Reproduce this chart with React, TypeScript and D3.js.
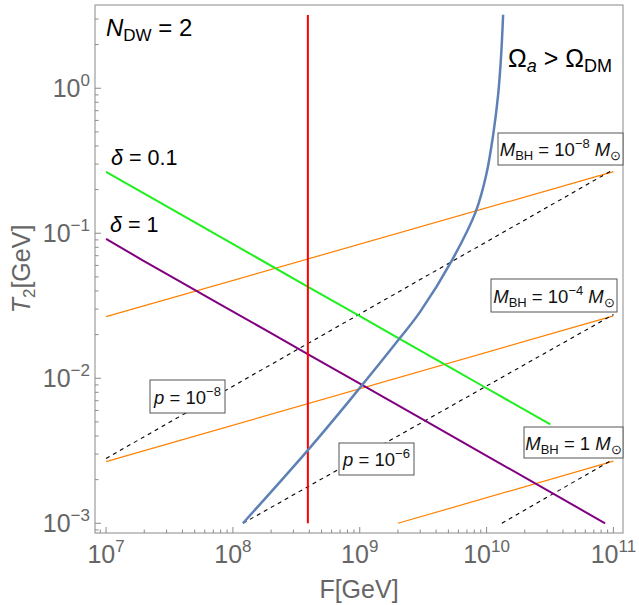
import React from 'react';
import * as d3 from 'd3';

const W = 639;
const H = 605;

// plot ranges
const xDomain = [8.18e6, 1.19e11];
const yDomain = [8.57e-4, 3.75];
const xMajorExps = [7, 8, 9, 10, 11];
const yMajorExps = [-3, -2, -1, 0];

// Omega_a > Omega_DM boundary (blue)
const blueF = [1.2e8, 3.92e8, 8.39e8, 2.08e9, 2.99e9, 5.36e9, 8.22e9, 9.93e9, 1.127e10, 1.233e10, 1.303e10, 1.35e10];
const blueT = [1e-3, 3.21e-3, 7.1e-3, 0.019, 0.0287, 0.0656, 0.141, 0.252, 0.477, 0.9, 1.7, 3.21];

// delta = 0.1 (green)
const greenF = [1e7, 2.35e7, 5.22e7, 1.37e8, 3.85e8, 1.01e9, 2.08e9, 4.71e9, 9.4e9, 3.18e10];
const greenT = [0.265, 0.1732, 0.1165, 0.0721, 0.0431, 0.0267, 0.01864, 0.01241, 0.00881, 0.00481];

// delta = 1 (purple)
const purpleF = [1e7, 1.96e7, 3.63e7, 7.5e7, 1.86e8, 3.92e8, 1.06e9, 3.4e9, 1.01e10, 3.35e10, 8.6e10];
const purpleT = [0.0914, 0.0648, 0.0477, 0.0333, 0.0212, 0.01464, 0.00892, 0.005, 0.00291, 0.0016, 0.001];

// M_BH lines (orange)
const orange1F = [1e7, 1e11];
const orange1T = [0.0266, 0.266];
const orange2F = [1e7, 1e11];
const orange2T = [0.00266, 0.0269];
const orange3F = [2.0e9, 1e11];
const orange3T = [0.001, 0.00268];

// p lines (dashed black)
const dash1F = [1e7, 1e11];
const dash1T = [0.0028, 0.275];
const dash2F = [1.2e8, 1e11];
const dash2T = [0.001, 0.0275];
const dash3F = [1.32e10, 9.5e10];
const dash3T = [0.001, 0.0027];

// red vertical line
const redF = [3.9e8, 3.9e8];
const redT = [0.001, 3.2];

const FONT = '"Liberation Sans", Arial, Helvetica, sans-serif';

const zip = (a: number[], b: number[]) => a.map((v, i) => [v, b[i]] as [number, number]);

export default function App() {
  const left = 95, right = 623, top = 5, bottom = 533;
  const x = d3.scaleLog().domain(xDomain).range([left, right]);
  const y = d3.scaleLog().domain(yDomain).range([bottom, top]);
  const line = d3.line<[number, number]>().x(d => x(d[0])).y(d => y(d[1]));
  const smooth = d3.line<[number, number]>().x(d => x(d[0])).y(d => y(d[1])).curve(d3.curveCatmullRom.alpha(0.5));

  const xTicks: { v: number; major: boolean }[] = [];
  for (let e = 6; e <= 11; e++) for (let k = 1; k <= 9; k++) {
    const v = k * Math.pow(10, e);
    if (v >= xDomain[0] && v <= xDomain[1]) xTicks.push({ v, major: k === 1 });
  }
  const yTicks: { v: number; major: boolean }[] = [];
  for (let e = -4; e <= 0; e++) for (let k = 1; k <= 9; k++) {
    const v = k * Math.pow(10, e);
    if (v >= yDomain[0] && v <= yDomain[1]) yTicks.push({ v, major: k === 1 });
  }
  const grey = '#8a8a8a';
  const labelGrey = '#666666';
  const expStr = (e: number) => (e < 0 ? '\u2212' + Math.abs(e) : String(e));

  const Box = ({ x0, y0, w, h, children }: any) => (
    <g>
      <rect x={x0} y={y0} width={w} height={h} fill="white" stroke="#555" strokeWidth={1} />
      <text x={x0 + w / 2} y={y0 + h / 2 + 7} textAnchor="middle" fontSize={18.5} fill="#111">{children}</text>
    </g>
  );

  const MBH = (exp: string | null) => (
    <>
      <tspan fontStyle="italic">M</tspan>
      <tspan fontSize={13} dy={4}>BH</tspan>
      <tspan dy={-4}>{exp === null ? ' = 1 ' : ' = 10'}</tspan>
      {exp !== null && <tspan fontSize={13} dy={-8}>{exp}</tspan>}
      {exp !== null && <tspan dy={8}>{' '}</tspan>}
      <tspan fontStyle="italic">M</tspan>
      <tspan fontSize={13} dy={4}>{'\u2299'}</tspan>
    </>
  );

  return (
    <div style={{ position: 'absolute', left: 0, top: 0 }}>
      <svg width={W} height={H} style={{ display: 'block', fontFamily: FONT }}>
        <rect x={0} y={0} width={W} height={H} fill="white" />
        {/* data lines */}
        <path d={line(zip(orange1F, orange1T))!} fill="none" stroke="#FF8000" strokeWidth={1.2} />
        <path d={line(zip(orange2F, orange2T))!} fill="none" stroke="#FF8000" strokeWidth={1.2} />
        <path d={line(zip(orange3F, orange3T))!} fill="none" stroke="#FF8000" strokeWidth={1.2} />
        <path d={line(zip(dash1F, dash1T))!} fill="none" stroke="#000" strokeWidth={1.1} strokeDasharray="4,4" />
        <path d={line(zip(dash2F, dash2T))!} fill="none" stroke="#000" strokeWidth={1.1} strokeDasharray="4,4" />
        <path d={line(zip(dash3F, dash3T))!} fill="none" stroke="#000" strokeWidth={1.1} strokeDasharray="4,4" />
        <path d={line(zip(greenF, greenT))!} fill="none" stroke="#1EF01E" strokeWidth={2} />
        <path d={line(zip(purpleF, purpleT))!} fill="none" stroke="#800080" strokeWidth={2} />
        <path d={line(zip(redF, redT))!} fill="none" stroke="#FF0000" strokeWidth={2} />
        <path d={smooth(zip(blueF, blueT))!} fill="none" stroke="#5E81B5" strokeWidth={2.5} />

        {/* frame */}
        <rect x={left} y={top} width={right - left} height={bottom - top} fill="none" stroke={grey} strokeWidth={1} />
        {xTicks.map((t, i) => (
          <line key={'xt' + i} x1={x(t.v)} x2={x(t.v)} y1={bottom} y2={bottom - (t.major ? 6 : 3.5)} stroke={grey} strokeWidth={1} />
        ))}
        {yTicks.map((t, i) => (
          <line key={'yt' + i} x1={left} x2={left + (t.major ? 6 : 3.5)} y1={y(t.v)} y2={y(t.v)} stroke={grey} strokeWidth={1} />
        ))}
        {xMajorExps.map(e => (
          <text key={'xl' + e} x={x(Math.pow(10, e))} y={563} textAnchor="middle" fontSize={25} fill={labelGrey}>
            10<tspan fontSize={17} dy={-11}>{expStr(e)}</tspan>
          </text>
        ))}
        {yMajorExps.map(e => (
          <text key={'yl' + e} x={90} y={y(Math.pow(10, e)) + 9} textAnchor="end" fontSize={25} fill={labelGrey}>
            10<tspan fontSize={17} dy={-11}>{expStr(e)}</tspan>
          </text>
        ))}
        <text x={(left + right) / 2} y={598} textAnchor="middle" fontSize={25} fill={labelGrey}>F[GeV]</text>
        <text transform={`translate(30,${(top + bottom) / 2}) rotate(-90)`} textAnchor="middle" fontSize={25} fill={labelGrey}>
          <tspan fontStyle="italic">T</tspan><tspan fontSize={17} dy={5}>2</tspan><tspan dy={-5}>[GeV]</tspan>
        </text>

        {/* annotations */}
        <text x={106} y={36} fontSize={24} fill="#000">
          <tspan fontStyle="italic">N</tspan><tspan fontSize={17} dy={5}>DW</tspan><tspan dy={-5}>{' = 2'}</tspan>
        </text>
        <text x={508} y={67} fontSize={25} fill="#000">
          {'\u03A9'}<tspan fontStyle="italic" fontSize={18} dy={5}>a</tspan><tspan dy={-5}>{' > \u03A9'}</tspan><tspan fontSize={18} dy={5}>DM</tspan>
        </text>
        <text x={111} y={165} fontSize={21.5} fill="#000">
          <tspan fontStyle="italic">{'\u03B4'}</tspan>{' = 0.1'}
        </text>
        <text x={110} y={232} fontSize={21.5} fill="#000">
          <tspan fontStyle="italic">{'\u03B4'}</tspan>{' = 1'}
        </text>

        <Box x0={498} y0={133} w={125} h={32}>{MBH('\u22128')}</Box>
        <Box x0={491} y0={279} w={126} h={33}>{MBH('\u22124')}</Box>
        <Box x0={524} y0={427} w={99} h={31}>{MBH(null)}</Box>
        <Box x0={150} y0={380} w={75} h={33}>
          <tspan fontStyle="italic">p</tspan>{' = 10'}<tspan fontSize={13} dy={-8}>{'\u22128'}</tspan>
        </Box>
        <Box x0={339} y0={443} w={75} h={32}>
          <tspan fontStyle="italic">p</tspan>{' = 10'}<tspan fontSize={13} dy={-8}>{'\u22126'}</tspan>
        </Box>
      </svg>
    </div>
  );
}
